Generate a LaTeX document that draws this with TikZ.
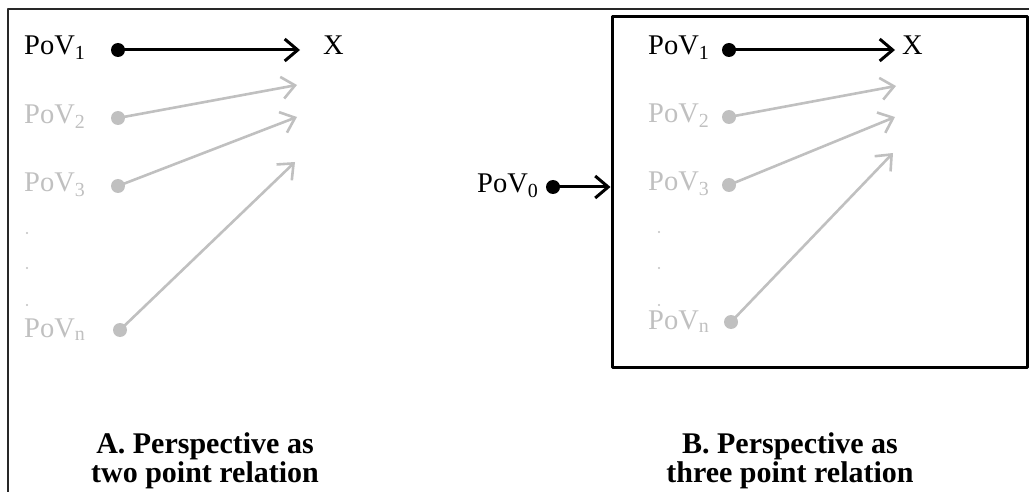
\documentclass[tikz,border=0pt]{standalone}
\usepackage{fontspec}
\setmainfont{Liberation Serif}
\usetikzlibrary{arrows.meta}
\definecolor{Pfaint}{RGB}{192,192,192}
\definecolor{Pframe}{RGB}{40,40,40}

\begin{document}
\begin{tikzpicture}[x=1pt,y=-1pt,line cap=round,line join=round,
  pov/.style={anchor=base west,inner sep=0pt,font=\fontsize{28.5}{30}\selectfont},
  dotblack/.style={circle,fill=black,minimum size=14pt,inner sep=0pt},
  dotfaint/.style={circle,fill=Pfaint,minimum size=14pt,inner sep=0pt},
  vdot/.style={circle,fill=Pfaint,minimum size=2.2pt,inner sep=0pt},
  linkblack/.style={line width=3pt,-{Straight Barb[length=13pt,width=22pt]}},
  linkfaint/.style={draw=Pfaint,line width=2.6pt,-{Straight Barb[length=13pt,width=22pt]}},
  caption/.style={align=center,inner sep=0pt,font=\bfseries\fontsize{30}{29}\selectfont}]
\path[use as bounding box] (0,0) rectangle (1029,492);
% outer frame (left and top only)
\draw[Pframe,line width=1.5pt] (8,492) -- (8,9) -- (1029,9);

% panel A
\node[pov] (a1) at (24,55) {PoV\textsubscript{1}};
\node[pov,text=Pfaint] (a2) at (24,124) {PoV\textsubscript{2}};
\node[pov,text=Pfaint] (a3) at (24,192) {PoV\textsubscript{3}};
\node[pov,text=Pfaint] (an) at (24,337) {PoV\textsubscript{n}};
\node[pov] (ax) at (323,55) {X};
\node[vdot] (av1) at (27,233) {};
\node[vdot] (av2) at (27,268) {};
\node[vdot] (av3) at (27,305) {};
\node[dotblack] (ad1) at (118,50) {};
\node[dotfaint] (ad2) at (118,118) {};
\node[dotfaint] (ad3) at (118,186) {};
\node[dotfaint] (adn) at (120,330) {};
\coordinate (ae1) at (300,50);
\coordinate (ae2) at (297,85);
\coordinate (ae3) at (297,117);
\coordinate (aen) at (295,162);
\draw[linkblack] (ad1.center) -- (ae1);
\draw[linkfaint] (ad2.center) -- (ae2);
\draw[linkfaint] (ad3.center) -- (ae3);
\draw[linkfaint] (adn.center) -- (aen);
\node[caption] (capA) at (205,461) {A. Perspective as\\two point relation};

% panel B
\node[draw,line width=3pt,minimum width=415pt,minimum height=350pt,inner sep=0pt] (boxB) at (819.5,192) {};
\node[pov] (b0) at (477,193) {PoV\textsubscript{0}};
\node[dotblack] (bd0) at (553,187) {};
\draw[linkblack] (bd0.center) -- (bd0 -| boxB.west);
\node[pov] (b1) at (648,55) {PoV\textsubscript{1}};
\node[pov,text=Pfaint] (b2) at (648,123) {PoV\textsubscript{2}};
\node[pov,text=Pfaint] (b3) at (648,191) {PoV\textsubscript{3}};
\node[pov,text=Pfaint] (bn) at (648,329) {PoV\textsubscript{n}};
\node[pov] (bx) at (902,55) {X};
\node[vdot] (bv1) at (659,232) {};
\node[vdot] (bv2) at (659,268) {};
\node[vdot] (bv3) at (659,305) {};
\node[dotblack] (bd1) at (729,50) {};
\node[dotfaint] (bd2) at (729,117) {};
\node[dotfaint] (bd3) at (729,185) {};
\node[dotfaint] (bdn) at (731,322) {};
\coordinate (be1) at (895,50);
\coordinate (be2) at (896,86);
\coordinate (be3) at (895,117);
\coordinate (ben) at (893,153);
\draw[linkblack] (bd1.center) -- (be1);
\draw[linkfaint] (bd2.center) -- (be2);
\draw[linkfaint] (bd3.center) -- (be3);
\draw[linkfaint] (bdn.center) -- (ben);
\node[caption] (capB) at (790,461) {B. Perspective as\\three point relation};
\end{tikzpicture}
\end{document}
